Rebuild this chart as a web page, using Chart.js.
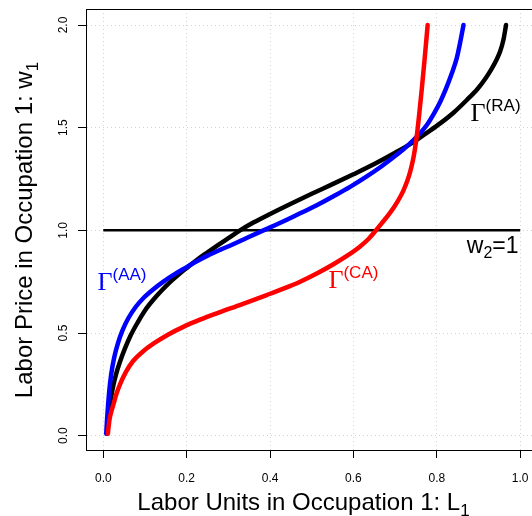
<!DOCTYPE html>
<html><head><meta charset="utf-8">
<script src="https://cdn.jsdelivr.net/npm/chart.js@4/dist/chart.umd.min.js"></script>
<style>html,body{margin:0;padding:0;background:#fff;overflow:hidden}#wrap{width:532px;height:516px;position:relative}</style>
</head><body><div id="wrap"><canvas id="c" width="532" height="516"></canvas></div>
<script>
// ---- data ----
const raX = [0.009,0.012,0.016,0.022,0.030,0.040,0.052,0.066,0.082,0.100,0.120,0.140,0.160,0.180,0.200,0.225,0.250,0.275,0.300,0.328,0.360,0.400,0.450,0.500,0.550,0.600,0.650,0.700,0.744,0.776,0.808,0.840,0.872,0.898,0.915,0.930,0.942,0.952,0.960,0.966];
const raY = [0.01,0.08,0.15,0.225,0.295,0.36,0.425,0.49,0.55,0.61,0.662,0.707,0.748,0.784,0.817,0.857,0.893,0.928,0.962,1.0,1.038,1.08,1.13,1.178,1.225,1.273,1.323,1.378,1.43,1.475,1.521,1.573,1.635,1.69,1.735,1.782,1.826,1.872,1.93,2.0];
const aaX = [0.007,0.009,0.0115,0.0145,0.019,0.026,0.035,0.0465,0.060,0.078,0.097,0.118,0.145,0.174,0.200,0.222,0.250,0.280,0.310,0.345,0.384,0.430,0.472,0.512,0.552,0.592,0.632,0.666,0.696,0.722,0.744,0.762,0.776,0.792,0.808,0.822,0.836,0.848,0.856,0.864];
const aaY = [0.01,0.08,0.15,0.223,0.30,0.38,0.45,0.515,0.572,0.628,0.672,0.71,0.752,0.79,0.821,0.847,0.877,0.905,0.931,0.964,1.0,1.042,1.083,1.122,1.166,1.212,1.263,1.31,1.356,1.398,1.44,1.478,1.513,1.565,1.625,1.69,1.765,1.84,1.915,2.0];
const caX = [0.011,0.0125,0.015,0.019,0.024,0.031,0.040,0.054,0.072,0.095,0.120,0.155,0.192,0.232,0.272,0.332,0.392,0.432,0.472,0.512,0.552,0.586,0.616,0.636,0.652,0.668,0.684,0.698,0.710,0.720,0.729,0.736,0.742,0.747,0.752,0.758,0.764,0.771,0.778];
const caY = [0.01,0.04,0.08,0.115,0.15,0.2,0.25,0.31,0.365,0.41,0.448,0.492,0.53,0.565,0.596,0.64,0.685,0.716,0.75,0.79,0.835,0.878,0.922,0.958,0.995,1.035,1.075,1.115,1.155,1.195,1.24,1.285,1.335,1.39,1.46,1.57,1.69,1.84,2.0];
const refX = [0, 1.0];
const refY = [1, 1];
const xTicks = [0, 0.2, 0.4, 0.6, 0.8, 1.0];
const yTicks = [0, 0.5, 1.0, 1.5, 2.0];
const curveNames = ['RA', 'AA', 'CA'];

// ---- label anchors (data coordinates) ----
const curveLabels = [
  {name: 'AA', x: -0.014, y: 0.71, color: '#0000ff'},
  {name: 'CA', x: 0.540, y: 0.717, color: '#ff0000'},
  {name: 'RA', x: 0.881, y: 1.532, color: '#000000'}
];
const refLabel = {x: 0.872, y: 0.892};

const pts = (xs, ys) => xs.map((v, i) => ({x: v, y: ys[i]}));
const SANS = '"Liberation Sans", Arial, Helvetica, sans-serif';
const SERIF = '"Liberation Serif", "Times New Roman", serif';

function drawSub(ctx, main, sub, x, y, size, subSize, drop) {
  ctx.font = size + 'px ' + SANS;
  ctx.fillText(main, x, y);
  const w = ctx.measureText(main).width;
  ctx.font = subSize + 'px ' + SANS;
  ctx.fillText(sub, x + w, y + drop);
  return w + ctx.measureText(sub).width;
}

const decor = {
  id: 'decor',
  afterDraw(chart) {
    const {ctx, scales: {x, y}, chartArea: a} = chart;
    ctx.save();
    // top frame line
    ctx.strokeStyle = '#000'; ctx.lineWidth = 1;
    ctx.beginPath(); ctx.moveTo(a.left, a.top + 0.5); ctx.lineTo(a.right, a.top + 0.5); ctx.stroke();
    // tick labels
    ctx.fillStyle = '#000'; ctx.font = '12px ' + SANS;
    ctx.textAlign = 'center'; ctx.textBaseline = 'alphabetic';
    xTicks.forEach(v => {
      ctx.fillText(v.toFixed(1), x.getPixelForValue(v), 481.5);
    });
    yTicks.forEach(v => {
      const py = y.getPixelForValue(v);
      ctx.save(); ctx.translate(66.5, py); ctx.rotate(-Math.PI / 2);
      ctx.fillText(v.toFixed(1), 0, 0); ctx.restore();
    });
    ctx.textAlign = 'left';
    // curve labels
    curveLabels.forEach(l => {
      const px = x.getPixelForValue(l.x), py = y.getPixelForValue(l.y);
      ctx.fillStyle = l.color;
      ctx.font = '26px ' + SERIF;
      ctx.fillText('\u0393', px, py);
      const w = ctx.measureText('\u0393').width;
      ctx.font = '17px ' + SANS;
      ctx.fillText('(' + l.name + ')', px + w, py - 10);
    });
    // w2=1 label
    ctx.fillStyle = '#000';
    {
      const px = x.getPixelForValue(refLabel.x), py = y.getPixelForValue(refLabel.y);
      ctx.font = '23px ' + SANS;
      ctx.fillText('w', px, py);
      let w = ctx.measureText('w').width;
      ctx.font = '16px ' + SANS;
      ctx.fillText('2', px + w, py + 5);
      w += ctx.measureText('2').width;
      ctx.font = '23px ' + SANS;
      ctx.fillText('=1', px + w, py);
    }
    // axis titles
    {
      const t = 'Labor Units in Occupation 1: L';
      ctx.font = '24px ' + SANS;
      const w1 = ctx.measureText(t).width;
      ctx.font = '17px ' + SANS;
      const w2 = ctx.measureText('1').width;
      drawSub(ctx, t, '1', 303.5 - (w1 + w2) / 2, 510, 24, 17, 6);
    }
    {
      const t = 'Labor Price in Occupation 1: w';
      ctx.font = '24px ' + SANS;
      const w1 = ctx.measureText(t).width;
      ctx.font = '17px ' + SANS;
      const w2 = ctx.measureText('1').width;
      ctx.save(); ctx.translate(31.5, 230); ctx.rotate(-Math.PI / 2);
      drawSub(ctx, t, '1', -(w1 + w2) / 2, 0, 24, 17, 6);
      ctx.restore();
    }
    ctx.restore();
  }
};

const lineDs = (label, data, color, w) => ({
  label, data, borderColor: color, backgroundColor: color, borderWidth: w,
  pointRadius: 0, fill: false, cubicInterpolationMode: 'monotone',
  borderCapStyle: 'round', borderJoinStyle: 'round'
});

new Chart(document.getElementById('c'), {
  type: 'line',
  data: {
    datasets: [
      lineDs(curveNames[2], pts(caX, caY), '#ff0000', 4.5),
      lineDs(curveNames[1], pts(aaX, aaY), '#0000ff', 4.5),
      lineDs(curveNames[0], pts(raX, raY), '#000000', 4.5),
      {label: 'w2=1', data: pts(refX, refY), borderColor: '#000', borderWidth: 2.5, pointRadius: 0, fill: false, tension: 0}
    ]
  },
  options: {
    responsive: false, animation: false, devicePixelRatio: 1,
    layout: {padding: {top: 9, right: 0, left: 0, bottom: 0}},
    plugins: {legend: {display: false}, tooltip: {enabled: false}},
    scales: {
      x: {
        type: 'linear', min: -0.0415, max: 1.0283,
        afterFit: s => { s.height = 66; },
        afterBuildTicks: s => { s.ticks = xTicks.map(v => ({value: v})); },
        ticks: {display: false},
        grid: {color: '#d3d3d3', lineWidth: 1, tickLength: 8, tickColor: '#000', tickWidth: 1, tickBorderDash: []},
        border: {display: true, color: '#000', width: 1, dash: [1, 3]}
      },
      y: {
        type: 'linear', min: -0.0696, max: 2.078,
        afterFit: s => { s.width = 86; },
        afterBuildTicks: s => { s.ticks = yTicks.map(v => ({value: v})); },
        ticks: {display: false},
        grid: {color: '#d3d3d3', lineWidth: 1, tickLength: 8, tickColor: '#000', tickWidth: 1, tickBorderDash: []},
        border: {display: true, color: '#000', width: 1, dash: [1, 3]}
      }
    }
  },
  plugins: [decor]
});
</script>
</body></html>
